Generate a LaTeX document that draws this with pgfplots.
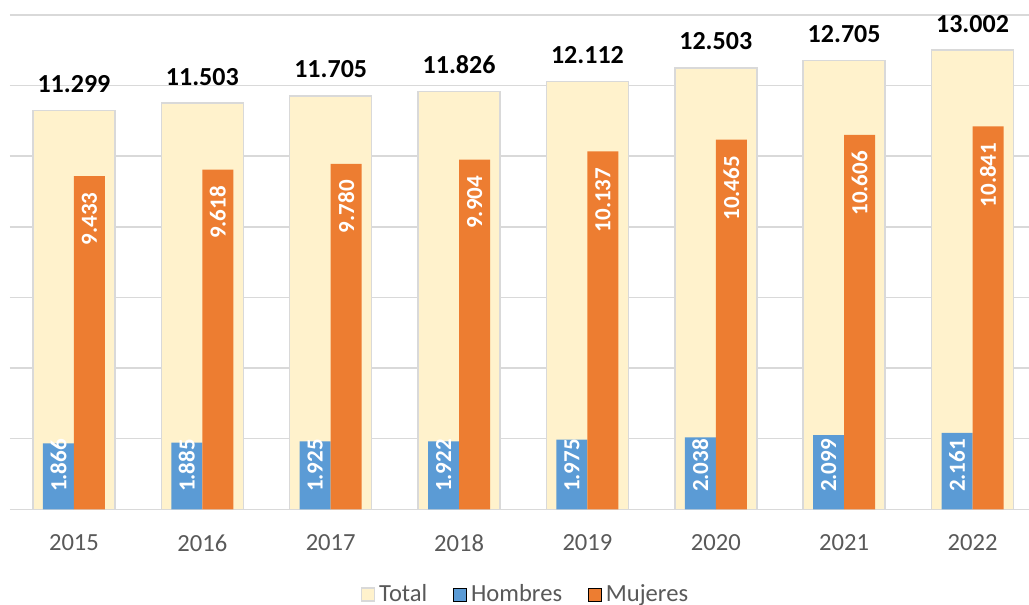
\documentclass[border=0pt]{standalone}
\usepackage{fontspec}
\setmainfont{Carlito}
\usepackage{graphicx}
\usepackage{pgfplots}
\pgfplotsset{compat=1.18}
\definecolor{totfill}{HTML}{FFF2CC}
\definecolor{totdraw}{HTML}{D9D9D9}
\definecolor{hom}{HTML}{5B9BD5}
\definecolor{muj}{HTML}{ED7D31}
\definecolor{gridc}{HTML}{D9D9D9}
\definecolor{txt}{HTML}{595959}
\begin{document}
\begin{tikzpicture}
\path[use as bounding box] (0,0) rectangle (514.5pt,302.5pt);
\begin{axis}[
  at={(4.9pt,47.85pt)}, anchor=south west,
  scale only axis, width=509.6pt, height=247.2pt,
  xmin=-0.5, xmax=7.44, ymin=0, ymax=14000,
  xtick={0,1,2,3,4,5,6,7},
  xticklabels={2015,2016,2017,2018,2019,2020,2021,2022},
  ytick={0,2000,4000,6000,8000,10000,12000,14000}, yticklabels={},
  major tick length=0pt,
  ymajorgrids, grid style={gridc, line width=0.75pt},
  axis line style={draw=none},
  xticklabel style={font=\fontsize{12.3}{14}\selectfont, text=txt, anchor=north, inner sep=0pt, yshift=-12.5pt},
  /pgf/number format/.cd, 1000 sep={.}, assume math mode=true, /pgfplots/.cd,
  legend style={at={(0.5,0)}, anchor=center, xshift=3.5pt, yshift=-42.6pt, draw=none, fill=none,
    legend columns=-1, font=\fontsize{12.3}{14}\selectfont, text=txt,
    /tikz/every even column/.append style={column sep=11pt}},
  legend image code/.code={\draw[#1] (0pt,-3.25pt) rectangle (6.5pt,3.25pt);},
  clip=false,
]
\addlegendimage{fill=totfill, draw=totdraw, line width=0.75pt}
\addlegendentry{Total}
\addlegendimage{fill=hom, draw=none}
\addlegendentry{Hombres}
\addlegendimage{fill=muj, draw=none}
\addlegendentry{Mujeres}

\addplot[ybar, bar width=41pt, bar shift=0pt, fill=totfill, draw=totdraw, line width=0.75pt, forget plot,
  nodes near coords,
  every node near coord/.append style={font=\fontsize{13}{15}\selectfont\bfseries, text=black, anchor=base, inner sep=0pt, yshift=9pt}]
  coordinates {(0,11299) (1,11503) (2,11705) (3,11826) (4,12112) (5,12503) (6,12705) (7,13002)};

\addplot[ybar, bar width=15.5pt, bar shift=-7.75pt, fill=hom, draw=none, forget plot]
  coordinates {(0,1866) (1,1885) (2,1925) (3,1922) (4,1975) (5,2038) (6,2099) (7,2161)};

\addplot[ybar, bar width=15.5pt, bar shift=7.75pt, fill=muj, draw=none, forget plot,
  nodes near coords={\rotatebox{90}{\pgfmathprintnumber{\pgfplotspointmeta}}},
  every node near coord/.append style={font=\fontsize{11.5}{13}\selectfont\bfseries, text=white, anchor=north, inner sep=0pt, xshift=7.75pt, yshift=-8pt}]
  coordinates {(0,9433) (1,9618) (2,9780) (3,9904) (4,10137) (5,10465) (6,10606) (7,10841)};

\addplot[ybar, bar width=15.5pt, bar shift=-7.75pt, draw=none, fill=none, forget plot,
  point meta=explicit,
  nodes near coords={\rotatebox{90}{\pgfmathprintnumber{\pgfplotspointmeta}}},
  every node near coord/.append style={font=\fontsize{11.5}{13}\selectfont\bfseries, text=white, anchor=south, inner sep=0pt, xshift=-7.75pt, yshift=8.5pt}]
  coordinates {(0,0)[1866] (1,0)[1885] (2,0)[1925] (3,0)[1922] (4,0)[1975] (5,0)[2038] (6,0)[2099] (7,0)[2161]};
\end{axis}
\end{tikzpicture}
\end{document}
